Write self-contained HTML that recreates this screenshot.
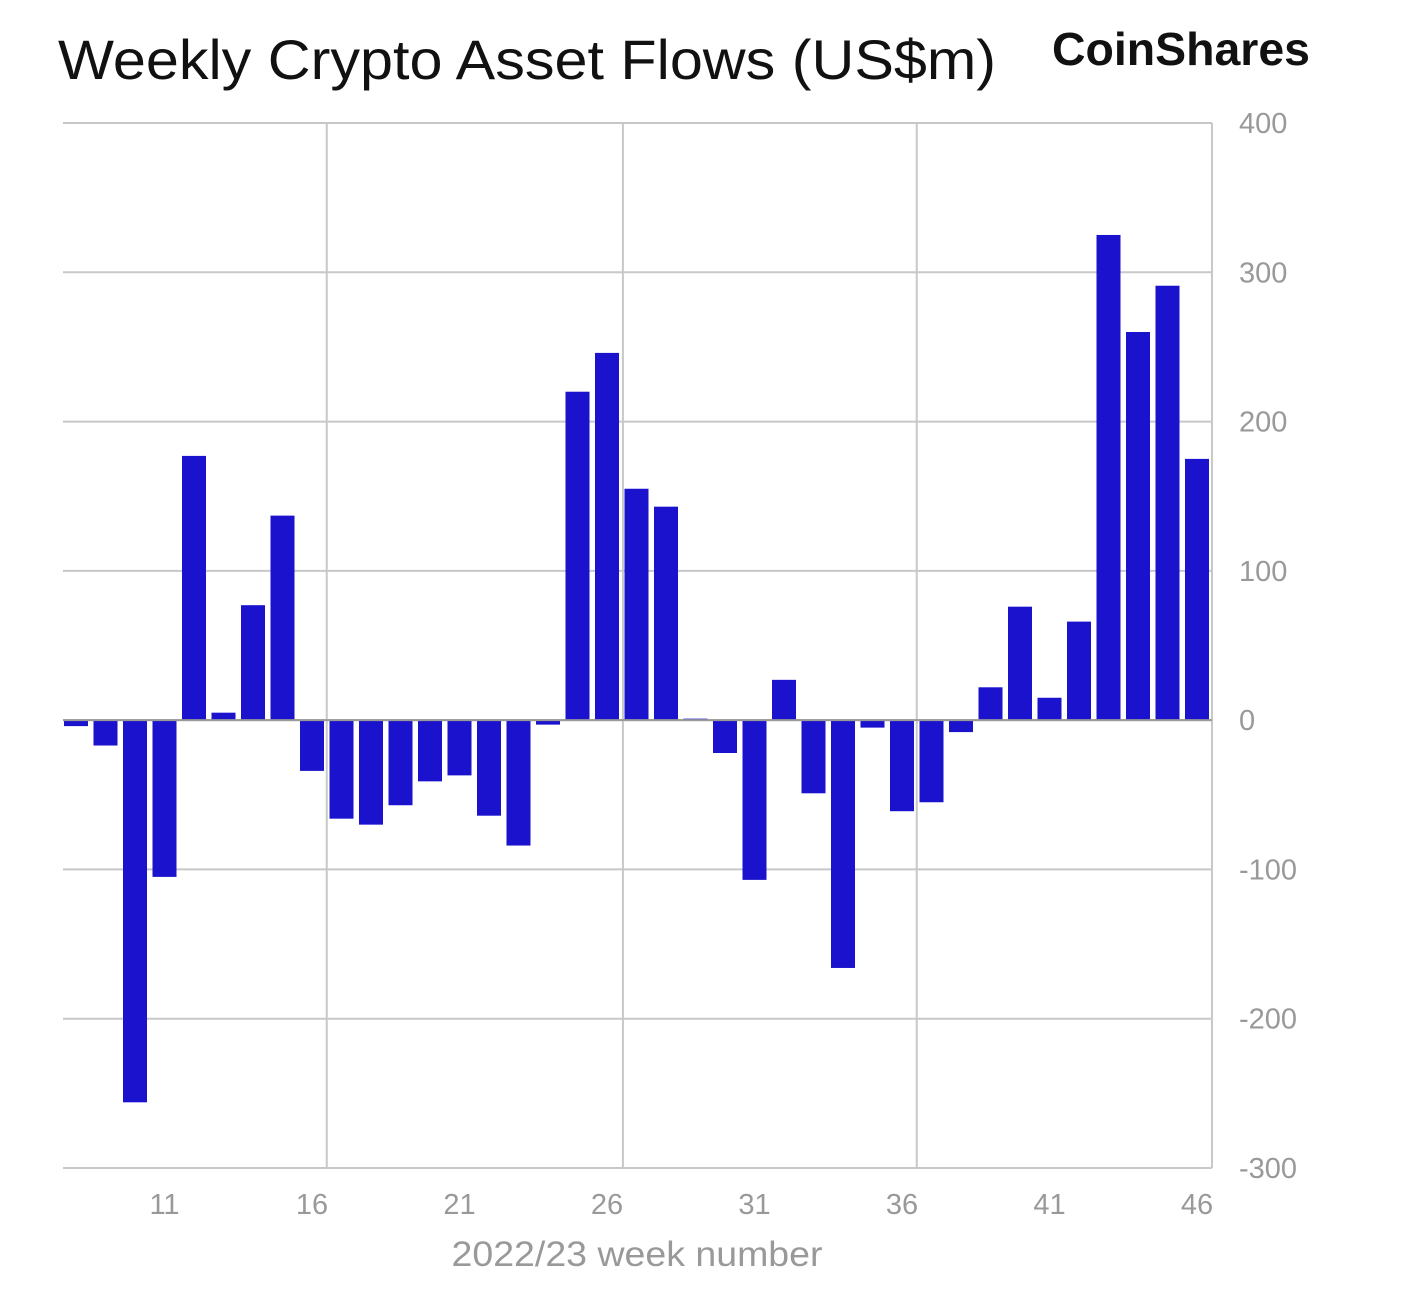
<!DOCTYPE html>
<html><head><meta charset="utf-8"><style>
html,body{margin:0;padding:0;background:#fff;}
svg{display:block;font-family:"Liberation Sans",sans-serif;}
</style></head><body>
<svg id="chart" width="1404" height="1296" viewBox="0 0 1404 1296">
<text x="58" y="79" font-size="56" fill="#111" textLength="938" lengthAdjust="spacingAndGlyphs">Weekly Crypto Asset Flows (US$m)</text>
<text x="1052" y="65" font-size="46" font-weight="bold" fill="#111" textLength="258" lengthAdjust="spacingAndGlyphs">CoinShares</text>
<g id="grid"></g><g id="bars"></g><g id="axes"></g>
<text x="637" y="1266" font-size="35" fill="#999" text-anchor="middle" textLength="371" lengthAdjust="spacingAndGlyphs">2022/23 week number</text>
</svg>
<script>
const weeks=[8,9,10,11,12,13,14,15,16,17,18,19,20,21,22,23,24,25,26,27,28,29,30,31,32,33,34,35,36,37,38,39,40,41,42,43,44,45,46];
const flows=[-4,-17,-256,-105,177,5,77,137,-34,-66,-70,-57,-41,-37,-64,-84,-3,220,246,155,143,1,-22,-107,27,-49,-166,-5,-61,-55,-8,22,76,15,66,325,260,291,175];
const yTicks=[400,300,200,100,0,-100,-200,-300];
const xTicks=[11,16,21,26,31,36,41,46];
const vGrid=[16.5,26.54,36.5];
const NS='http://www.w3.org/2000/svg';
const L=63,R=1212,T=123,B=1168;
const y=v=>T+(400-v)/700*(B-T);
const x=w=>76+(w-8)*29.5;
function mk(t,a,p){const e=document.createElementNS(NS,t);for(const k in a)e.setAttribute(k,a[k]);p.appendChild(e);return e;}
const g=document.getElementById('grid'),b=document.getElementById('bars'),ax=document.getElementById('axes');
yTicks.forEach(v=>{
 const l=mk('line',{x1:L,x2:R,y1:y(v),y2:y(v),stroke:'#c8c8c8','stroke-width':2},g);
 
 
 const t=mk('text',{x:1239,y:y(v)+10,'font-size':29,fill:'#999'},ax);
 t.textContent=v;
 
 
});
vGrid.forEach(w=>{
 const l=mk('line',{x1:x(w),x2:x(w),y1:T,y2:B,stroke:'#c8c8c8','stroke-width':2},g);
 
 
});
const ra=mk('line',{x1:R,x2:R,y1:T,y2:B,stroke:'#c8c8c8','stroke-width':2},g);


xTicks.forEach(w=>{
 const t=mk('text',{x:x(w),y:1214,'font-size':29,fill:'#999','text-anchor':'middle'},ax);
 t.textContent=w;
 
 
});
weeks.forEach((w,i)=>{
 const v=flows[i],y0=y(0),y1=y(v);
 const r=mk('rect',{x:x(w)-12,y:Math.min(y0,y1),width:24,height:Math.max(1,Math.abs(y1-y0)),fill:'#1a12cc'},b);
 
 
});
const z=mk('line',{x1:L,x2:R,y1:y(0),y2:y(0),stroke:'#999','stroke-width':2},ax);


</script>
</body></html>
